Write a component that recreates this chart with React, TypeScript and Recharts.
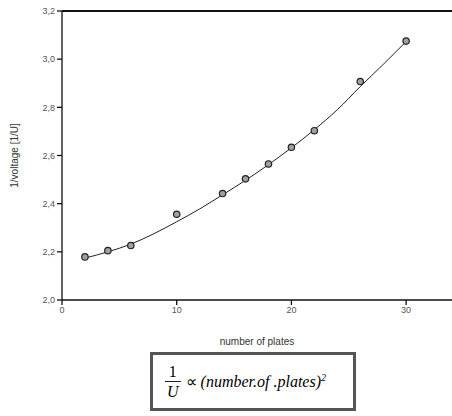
import { ComposedChart, Line, Scatter, XAxis, YAxis } from "recharts";

const plates = [2, 4, 6, 10, 14, 16, 18, 20, 22, 26, 30];
const invVoltage = [2.179, 2.205, 2.226, 2.356, 2.442, 2.503, 2.565, 2.634, 2.703, 2.907, 3.075];

const fitX = [2, 4, 6, 8, 10, 12, 14, 16, 18, 20, 22, 24, 26, 28, 30];
const fitY = [2.174, 2.2, 2.232, 2.275, 2.325, 2.378, 2.437, 2.497, 2.562, 2.632, 2.707, 2.79, 2.886, 2.978, 3.073];

const xTicks = [0, 10, 20, 30];
const yTicks = [2.0, 2.2, 2.4, 2.6, 2.8, 3.0, 3.2];

const points = plates.map((x, i) => ({ x, y: invVoltage[i] }));
const fit = fitX.map((x, i) => ({ x, y: fitY[i] }));

const tickStyle = { fontSize: 9, fill: "#555", fontFamily: "Liberation Sans, Arial, sans-serif" };

const Dot = (props: any) => (
  <circle cx={props.cx} cy={props.cy} r={3.2} fill="#a0a0a0" stroke="#222" strokeWidth={1.2} />
);

export default function App() {
  return (
    <div style={{ position: "absolute", left: 0, top: 0, width: 452, height: 416, background: "#fff" }}>
      <ComposedChart width={452} height={350} margin={{ top: 11, right: 0, left: 0, bottom: 0 }}>
        <XAxis
          type="number"
          dataKey="x"
          domain={[0, 34]}
          ticks={xTicks}
          tick={tickStyle}
          tickSize={5}
          stroke="#111"
          strokeWidth={1.3}
          height={50}
          label={{
            value: "number of plates",
            position: "insideTop",
            offset: 38,
            style: { fontSize: 10, fill: "#333", fontFamily: "Liberation Sans, Arial, sans-serif" },
          }}
        />
        <YAxis
          type="number"
          dataKey="y"
          domain={[2.0, 3.2]}
          ticks={yTicks}
          tick={tickStyle}
          tickSize={5}
          tickFormatter={(v: number) => v.toFixed(1).replace(".", ",")}
          stroke="#111"
          strokeWidth={1.3}
          width={62}
          label={{
            value: "1/voltage [1/U]",
            angle: -90,
            position: "insideLeft",
            offset: 14,
            style: { fontSize: 10, fill: "#333", fontFamily: "Liberation Sans, Arial, sans-serif", textAnchor: "middle" },
          }}
        />
        <Line data={fit} dataKey="y" type="monotone" stroke="#222" strokeWidth={1} dot={false} isAnimationActive={false} />
        <Scatter data={points} dataKey="y" shape={Dot} isAnimationActive={false} />
      </ComposedChart>
      {/* top frame line of the plot area */}
      <div style={{ position: "absolute", left: 62, top: 10, width: 390, height: 2, background: "#111" }} />
      <div
        style={{
          position: "absolute",
          left: 150,
          top: 352,
          width: 188,
          height: 53,
          border: "3px solid #555",
          fontFamily: "Liberation Serif, Times New Roman, serif",
          fontSize: 16,
          display: "flex",
          alignItems: "center",
          paddingLeft: 12,
          boxSizing: "content-box",
        }}
      >
        <span style={{ display: "inline-flex", flexDirection: "column", alignItems: "center", marginRight: 5, lineHeight: "19px" }}>
          <span>1</span>
          <span style={{ borderTop: "1px solid #222", fontStyle: "italic", padding: "0 2px" }}>U</span>
        </span>
        <span style={{ fontStyle: "italic", whiteSpace: "nowrap" }}>
          <span style={{ fontStyle: "normal" }}>∝</span> (number.of .plates)<sup style={{ fontSize: 10 }}>2</sup>
        </span>
      </div>
    </div>
  );
}
